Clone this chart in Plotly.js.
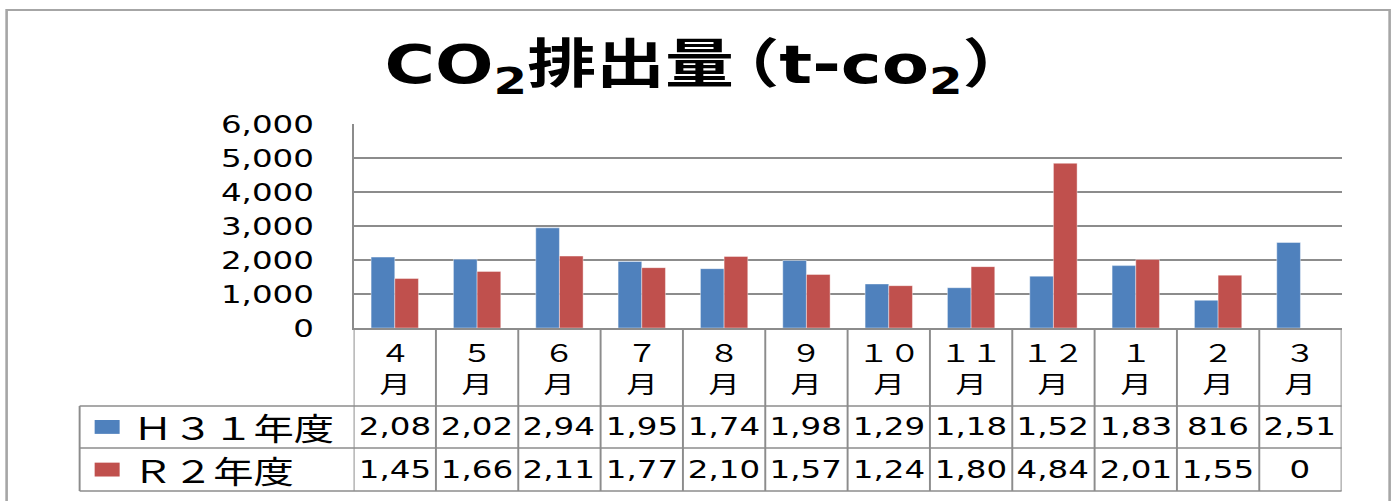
<!DOCTYPE html>
<html><head><meta charset="utf-8">
<script src="https://cdn.plot.ly/plotly-3.0.1.min.js"></script>
<style>
html,body{margin:0;padding:0;overflow:hidden;background:#fff;width:1393px;height:501px}
#chart{width:1072px;height:501px;transform:scaleX(1.3);transform-origin:0 0}
</style></head><body><div id="chart"></div>
<script>
const months = ["４月","５月","６月","７月","８月","９月","１０月","１１月","１２月","１月","２月","３月"];
const seriesNames = ["Ｈ３１年度","Ｒ２年度"];
const h31 = [2085,2025,2945,1955,1745,1985,1295,1185,1525,1835,816,2515];
const r2 = [1455,1665,2115,1775,2105,1575,1245,1805,4845,2015,1555,0];
const yTicks = [0,1000,2000,3000,4000,5000,6000];
const colors = ["#4F81BD","#C0504D"];

const CJK = "Noto Sans CJK JP";
const NUM = "DejaVu Sans";
const GRID = "#8c8c8c";

// paper coordinates for table rows (plot area spans 124..328 px vertically)
const rowTop = [-0.3824, -0.588, -0.799];
const headerMid = -0.191;
const rowMid = [-0.485, -0.694];
const legendLeft = -0.2773;

const traces = [
  {type:"bar", name:seriesNames[0], x:months, y:h31, marker:{color:colors[0], line:{width:0.6, color:"rgba(255,255,255,0.6)"}}},
  {type:"bar", name:seriesNames[1], x:months, y:r2, marker:{color:colors[1], line:{width:0.6, color:"rgba(255,255,255,0.6)"}}}
];

const shapes = [];
const annotations = [];
const ln = {color:GRID, width:1.5};
// vertical dividers of the table (category boundaries)
for (let k = 0; k <= months.length; k++) {
  shapes.push({type:"line", xref:"x", yref:"paper", x0:k-0.5, x1:k-0.5, y0:0, y1:rowTop[2], line:ln, layer:"above"});
}
// horizontal lines of data rows
rowTop.forEach(y => shapes.push({type:"line", xref:"paper", yref:"paper", x0:legendLeft, x1:1, y0:y, y1:y, line:ln}));
shapes.push({type:"line", xref:"paper", yref:"paper", x0:legendLeft, x1:legendLeft, y0:rowTop[0], y1:rowTop[2], line:ln});
// outer chart border
shapes.push({type:"rect", xref:"paper", yref:"paper", x0:-0.3512, x1:1.0486, y0:-0.875, y1:1.5588, line:{color:"#a6a6a6", width:2}});

// header labels
months.forEach((m, i) => {
  annotations.push({xref:"x", yref:"paper", x:i, y:headerMid, yanchor:"middle", xanchor:"center", showarrow:false,
    text: m.replace("月","") + "<br>月", font:{family:CJK, size:24, color:"#000"}});
});
// data rows
[h31, r2].forEach((vals, r) => {
  vals.forEach((v, i) => {
    const s = v.toLocaleString("en-US").slice(0,4);
    annotations.push({xref:"x", yref:"paper", x:i, y:rowMid[r], yanchor:"middle", xanchor:"center", showarrow:false,
      text:s, font:{family:NUM, size:25, color:"#000"}});
  });
  // legend key square
  shapes.push({type:"rect", xref:"paper", yref:"paper", x0:-0.2621, x1:-0.2368,
    y0:rowMid[r]+0.034, y1:rowMid[r]-0.034, fillcolor:colors[r], line:{width:0}});
  annotations.push({xref:"paper", yref:"paper", x:-0.2257, y:rowMid[r], xanchor:"left", yanchor:"middle", showarrow:false,
    text:seriesNames[r], font:{family:CJK, size:31, color:"#000"}});
});

const layout = {
  width:1072, height:501,
  margin:{l:272, r:40, t:124, b:173},
  paper_bgcolor:"#fff", plot_bgcolor:"#fff",
  showlegend:false,
  barmode:"group", bargap:0.425, bargroupgap:0,
  title:{text:"CO<sub>2</sub>排出<span style=\"letter-spacing:-18px\">量</span>（t-co<sub>2</sub>）", xref:"container", yref:"container", x:0.508, y:0.872,
    xanchor:"center", yanchor:"middle", font:{family:"DejaVu Sans, Noto Sans CJK JP", size:53, weight:"bold", color:"#000"}},
  xaxis:{type:"category", range:[-0.5, 11.5], showticklabels:false, showgrid:false, ticks:"",
    showline:true, linecolor:GRID, linewidth:1.5, zeroline:false, fixedrange:true},
  yaxis:{range:[0,6000], tickvals:yTicks, tickformat:",d", showgrid:true, gridcolor:GRID, gridwidth:1.5,
    showline:true, linecolor:GRID, linewidth:1.5, zeroline:false, ticks:"", ticklabelstandoff:24,
    tickfont:{family:NUM, size:25, color:"#000"}, fixedrange:true},
  shapes:shapes, annotations:annotations
};

Plotly.newPlot("chart", traces, layout, {displayModeBar:false, staticPlot:true});
</script></body></html>
